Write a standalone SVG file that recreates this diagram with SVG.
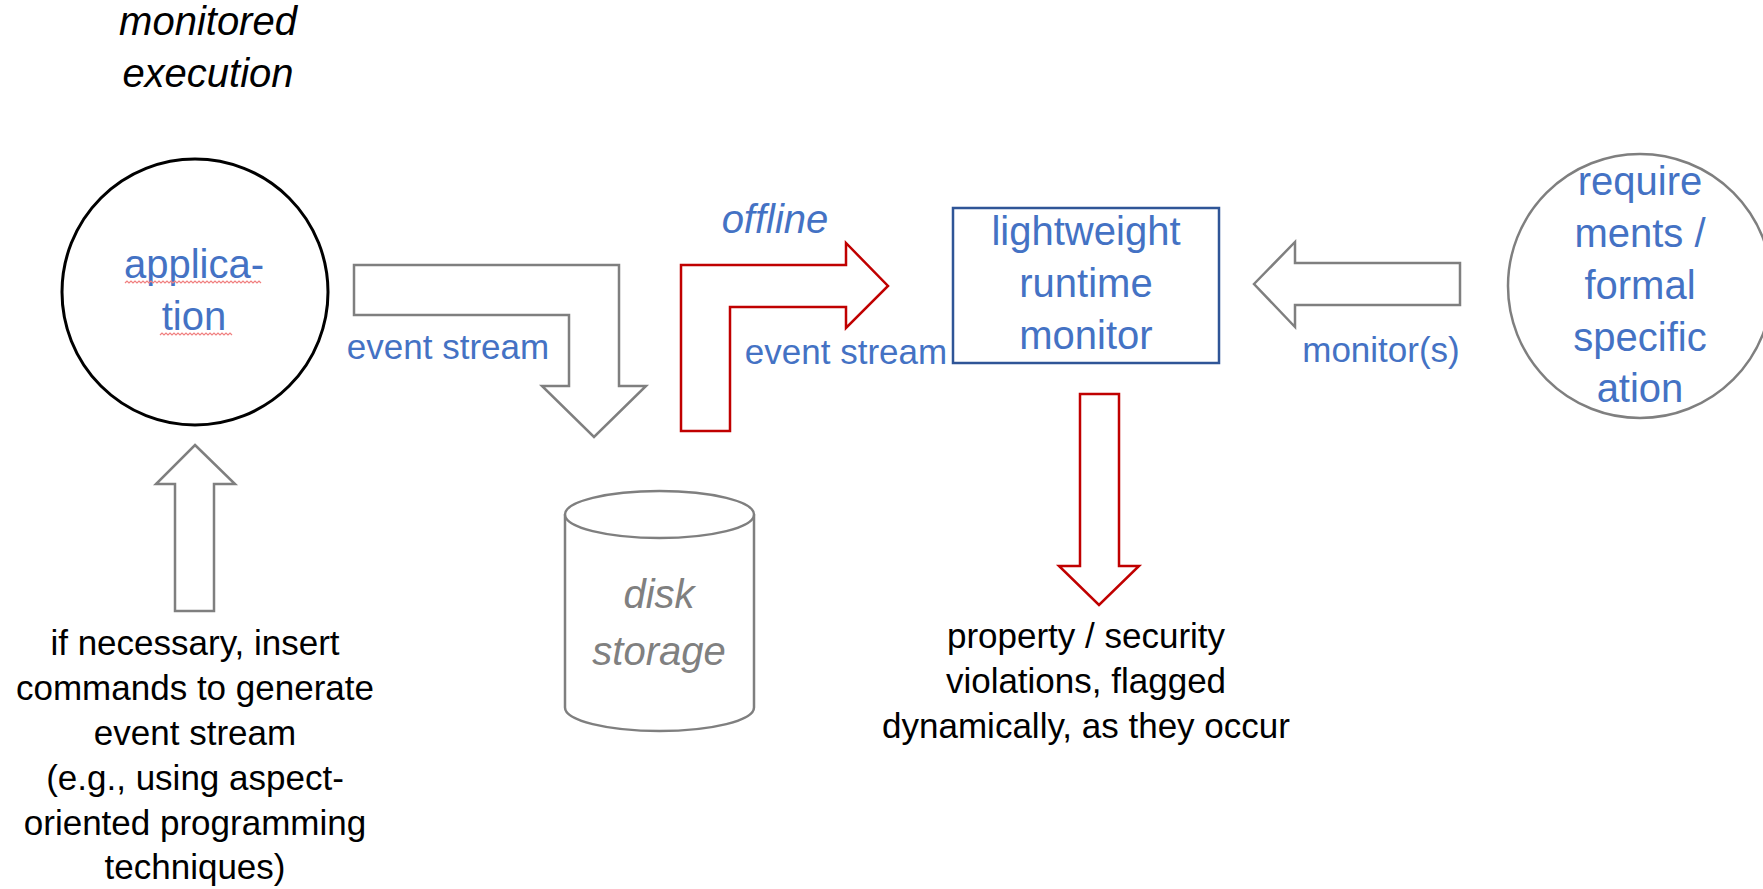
<svg xmlns="http://www.w3.org/2000/svg" width="1763" height="889" viewBox="0 0 1763 889">
<style>
  text { font-family: "Liberation Sans", Arial, sans-serif; text-anchor: middle; }
  .big { font-size: 40px; }
  .small { font-size: 35px; }
  .it { font-style: italic; }
  .blue { fill: #4472C4; }
  .black { fill: #000000; }
  .grayt { fill: #808080; }
  .garrow { fill: #FFFFFF; stroke: #7F7F7F; stroke-width: 2.5; stroke-linejoin: miter; }
  .rarrow { fill: #FFFFFF; stroke: #C00000; stroke-width: 2.5; stroke-linejoin: miter; }
  .squiggle { fill: none; stroke: #F08080; stroke-width: 1.2; }
</style>
<rect width="1763" height="889" fill="#FFFFFF"/>

<g id="connectors">
  <path id="arrow-app-to-disk" class="garrow" d="M354,265 H619 V386 H646 L594,437 L542,386 H569 V315 H354 Z"/>
  <path id="arrow-offline" class="rarrow" d="M681,431 V265 H846 V243 L888,286 L846,328 V307 H730 V431 Z"/>
  <path id="arrow-spec-to-monitor" class="garrow" d="M1254,284 L1295,242 V263 H1460 V305 H1295 V327 Z"/>
  <path id="arrow-instrument" class="garrow" d="M195,445 L235,484 H214 V611 H175 V484 H156 Z"/>
  <path id="arrow-violations" class="rarrow" d="M1080,394 H1119 V566 H1139 L1099,605 L1059,566 H1080 Z"/>
</g>

<g id="title-label">
  <text class="big it black" x="208" y="35">monitored</text>
  <text class="big it black" x="208" y="87">execution</text>
</g>

<g id="node-application">
  <circle cx="195" cy="292" r="133" fill="#FFFFFF" stroke="#000000" stroke-width="3"/>
  <text class="big blue" x="194" y="278">applica-</text>
  <text class="big blue" x="194" y="330">tion</text>
  <path class="squiggle" d="M125,283 l2,-2 l2,2 l2,-2 l2,2 l2,-2 l2,2 l2,-2 l2,2 l2,-2 l2,2 l2,-2 l2,2 l2,-2 l2,2 l2,-2 l2,2 l2,-2 l2,2 l2,-2 l2,2 l2,-2 l2,2 l2,-2 l2,2 l2,-2 l2,2 l2,-2 l2,2 l2,-2 l2,2 l2,-2 l2,2 l2,-2 l2,2 l2,-2 l2,2 l2,-2 l2,2 l2,-2 l2,2 l2,-2 l2,2 l2,-2 l2,2 l2,-2 l2,2 l2,-2 l2,2 l2,-2 l2,2 l2,-2 l2,2 l2,-2 l2,2 l2,-2 l2,2 l2,-2 l2,2 l2,-2 l2,2 l2,-2 l2,2 l2,-2 l2,2 l2,-2 l2,2 l2,-2 l2,2"/>
  <path class="squiggle" d="M160,335 l2,-2 l2,2 l2,-2 l2,2 l2,-2 l2,2 l2,-2 l2,2 l2,-2 l2,2 l2,-2 l2,2 l2,-2 l2,2 l2,-2 l2,2 l2,-2 l2,2 l2,-2 l2,2 l2,-2 l2,2 l2,-2 l2,2 l2,-2 l2,2 l2,-2 l2,2 l2,-2 l2,2 l2,-2 l2,2 l2,-2 l2,2 l2,-2 l2,2"/>
</g>

<g id="label-event-stream-1">
  <text class="small blue" x="448" y="359">event stream</text>
</g>

<g id="label-offline">
  <text class="big it blue" x="775" y="233">offline</text>
</g>

<g id="label-event-stream-2">
  <text class="small blue" x="846" y="364">event stream</text>
</g>

<g id="node-monitor">
  <rect x="953" y="208" width="266" height="155" fill="#FFFFFF" stroke="#2F5597" stroke-width="2.5"/>
  <text class="big blue" x="1086" y="245">lightweight</text>
  <text class="big blue" x="1086" y="297">runtime</text>
  <text class="big blue" x="1086" y="349">monitor</text>
</g>

<g id="label-monitors">
  <text class="small blue" x="1381" y="362">monitor(s)</text>
</g>

<g id="node-requirements">
  <circle cx="1640" cy="286" r="132" fill="#FFFFFF" stroke="#7F7F7F" stroke-width="2.5"/>
  <text class="big blue" x="1640" y="195">require</text>
  <text class="big blue" x="1640" y="247">ments /</text>
  <text class="big blue" x="1640" y="299">formal</text>
  <text class="big blue" x="1640" y="351">specific</text>
  <text class="big blue" x="1640" y="402">ation</text>
</g>

<g id="node-disk">
  <path d="M565,514.5 V707.5 A94.5,23.5 0 0 0 754,707.5 V514.5" fill="#FFFFFF" stroke="#7F7F7F" stroke-width="2.5"/>
  <ellipse cx="659.5" cy="514.5" rx="94.5" ry="23.5" fill="#FFFFFF" stroke="#7F7F7F" stroke-width="2.5"/>
  <text class="big it grayt" x="659" y="608">disk</text>
  <text class="big it grayt" x="659" y="665">storage</text>
</g>

<g id="label-instrumentation">
  <text class="small black" x="195" y="655">if necessary, insert</text>
  <text class="small black" x="195" y="700">commands to generate</text>
  <text class="small black" x="195" y="745">event stream</text>
  <text class="small black" x="195" y="790">(e.g., using aspect-</text>
  <text class="small black" x="195" y="835">oriented programming</text>
  <text class="small black" x="195" y="879">techniques)</text>
</g>

<g id="label-violations">
  <text class="small black" x="1086" y="648">property / security</text>
  <text class="small black" x="1086" y="693">violations, flagged</text>
  <text class="small black" x="1086" y="738">dynamically, as they occur</text>
</g>
</svg>
